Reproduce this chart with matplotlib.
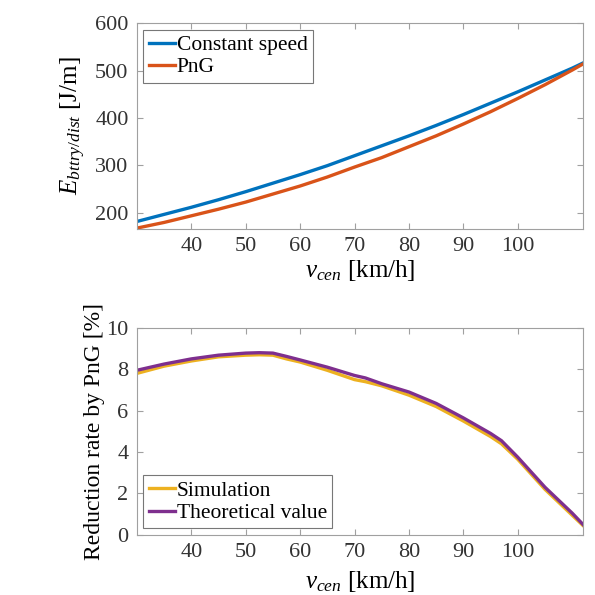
import matplotlib
matplotlib.use("Agg")
import matplotlib.pyplot as plt

plt.rcParams['font.family'] = ['Liberation Serif', 'DejaVu Serif']
plt.rcParams['mathtext.fontset'] = 'custom'
plt.rcParams['mathtext.rm'] = 'Liberation Serif'
plt.rcParams['mathtext.it'] = 'Liberation Serif:italic'

# ---- data ----
v_top = [30, 35, 40, 45, 50, 55, 60, 65, 70, 75, 80, 85, 90, 95, 100, 105, 110, 112]
e_const = [181, 196, 211, 227, 244, 262, 280, 299, 320, 341, 362, 384, 407, 431, 455, 480, 505, 516]
e_png = [167, 179, 193, 207, 222, 239, 256, 275, 296, 316, 339, 362, 387, 413, 441, 470, 501, 514]

v_bot = [30, 35, 40, 45, 50, 52.5, 55, 57.5, 60, 65, 70, 72, 75, 80, 85, 90, 95, 97, 100, 105, 110, 112]
r_sim = [7.8, 8.15, 8.4, 8.6, 8.68, 8.7, 8.68, 8.5, 8.35, 7.95, 7.5, 7.4, 7.2, 6.75, 6.2, 5.5, 4.75, 4.4, 3.65, 2.2, 0.95, 0.45]
r_theo = [7.95, 8.25, 8.5, 8.68, 8.78, 8.8, 8.78, 8.62, 8.45, 8.1, 7.7, 7.58, 7.3, 6.9, 6.35, 5.65, 4.9, 4.55, 3.75, 2.3, 1.05, 0.5]

x_ticks = [40, 50, 60, 70, 80, 90, 100]
top_yticks = [200, 300, 400, 500, 600]
bot_yticks = [0, 2, 4, 6, 8, 10]

c_blue = '#0072BD'
c_red = '#D95319'
c_yel = '#EDB120'
c_pur = '#7E2F8E'
tick_col = '#333333'
spine_col = '#a0a0a0'

fig = plt.figure(figsize=(5.95, 5.95), dpi=100)
ax1 = fig.add_axes([0.230, 0.615, 0.750, 0.346])
ax2 = fig.add_axes([0.230, 0.101, 0.750, 0.348])


def style(ax):
    for s in ax.spines.values():
        s.set_color(spine_col)
        s.set_linewidth(0.8)
    ax.tick_params(direction='in', top=True, right=True, length=4, width=0.8,
                   color=spine_col, labelcolor=tick_col, labelsize=16, pad=6)
    ax.set_xlim(30, 112)
    ax.set_xticks(x_ticks)


ax1.plot(v_top, e_const, color=c_blue, lw=2.4, label='Constant speed')
ax1.plot(v_top, e_png, color=c_red, lw=2.4, label='PnG')
style(ax1)
ax1.set_ylim(165, 600)
ax1.set_yticks(top_yticks)
ax1.set_xlabel(r'$v_{cen}$ [km/h]', fontsize=18, labelpad=1)
ax1.set_ylabel(r'$E_{bttry/dist}$ [J/m]', fontsize=18, labelpad=5)
leg1 = ax1.legend(loc='upper left', fontsize=15.5, handlelength=1.2, handletextpad=0.1,
                  borderpad=0.25, labelspacing=0.1, borderaxespad=0.3,
                  fancybox=False, framealpha=1, edgecolor='#777777')
leg1.get_frame().set_linewidth(0.8)

ax2.plot(v_bot, r_sim, color=c_yel, lw=2.4, label='Simulation')
ax2.plot(v_bot, r_theo, color=c_pur, lw=2.4, label='Theoretical value')
style(ax2)
ax2.set_ylim(0, 10)
ax2.set_yticks(bot_yticks)
ax2.set_xlabel(r'$v_{cen}$ [km/h]', fontsize=18, labelpad=5)
ax2.set_ylabel('Reduction rate by PnG [%]', fontsize=17, labelpad=1)
leg2 = ax2.legend(loc='lower left', fontsize=15.5, handlelength=1.2, handletextpad=0.1,
                  borderpad=0.25, labelspacing=0.1, borderaxespad=0.3,
                  fancybox=False, framealpha=1, edgecolor='#777777')
leg2.get_frame().set_linewidth(0.8)

fig.savefig('out.png', dpi=100)
